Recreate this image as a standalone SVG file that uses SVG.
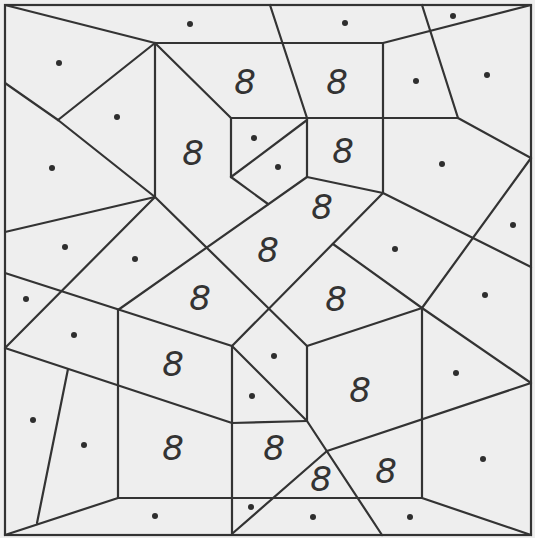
<svg xmlns="http://www.w3.org/2000/svg" width="535" height="538" viewBox="0 0 535 538">
<style>
.e{stroke:#333;stroke-width:2.2;stroke-linecap:round;fill:none}
.d{fill:#2e2e2e}
.n{font-family:"DejaVu Sans",sans-serif;font-weight:200;font-style:italic;font-size:34px;fill:#333;text-anchor:middle}
</style>
<rect width="535" height="538" fill="#eeeeee"/>
<rect x="5" y="5" width="526" height="530" fill="#e8e8e9" class="e"/>
<g id="connectors">
<line class="e" x1="5" y1="5" x2="155" y2="43"/>
<line class="e" x1="155" y1="43" x2="383" y2="43"/>
<line class="e" x1="383" y1="43" x2="531" y2="5"/>
<line class="e" x1="270" y1="5" x2="307" y2="118"/>
<line class="e" x1="422" y1="5" x2="458" y2="118"/>
<line class="e" x1="155" y1="43" x2="58" y2="120"/>
<line class="e" x1="155" y1="43" x2="155" y2="197"/>
<line class="e" x1="155" y1="43" x2="231" y2="118"/>
<line class="e" x1="5" y1="83" x2="58" y2="120"/>
<line class="e" x1="58" y1="120" x2="155" y2="197"/>
<line class="e" x1="155" y1="197" x2="5" y2="232"/>
<line class="e" x1="155" y1="197" x2="5" y2="348"/>
<line class="e" x1="155" y1="197" x2="307" y2="346"/>
<line class="e" x1="231" y1="118" x2="458" y2="118"/>
<line class="e" x1="231" y1="118" x2="231" y2="177"/>
<line class="e" x1="231" y1="177" x2="307" y2="120"/>
<line class="e" x1="231" y1="177" x2="268" y2="204"/>
<line class="e" x1="307" y1="118" x2="307" y2="177"/>
<line class="e" x1="383" y1="43" x2="383" y2="193"/>
<line class="e" x1="307" y1="177" x2="383" y2="193"/>
<line class="e" x1="307" y1="177" x2="118" y2="310"/>
<line class="e" x1="458" y1="118" x2="531" y2="158"/>
<line class="e" x1="531" y1="158" x2="422" y2="308"/>
<line class="e" x1="383" y1="193" x2="531" y2="267"/>
<line class="e" x1="383" y1="193" x2="232" y2="346"/>
<line class="e" x1="333" y1="244" x2="422" y2="308"/>
<line class="e" x1="422" y1="308" x2="307" y2="346"/>
<line class="e" x1="422" y1="308" x2="531" y2="383"/>
<line class="e" x1="422" y1="308" x2="422" y2="498"/>
<line class="e" x1="531" y1="383" x2="327" y2="451"/>
<line class="e" x1="327" y1="451" x2="233" y2="533"/>
<line class="e" x1="232" y1="346" x2="307" y2="421"/>
<line class="e" x1="307" y1="421" x2="382" y2="535"/>
<line class="e" x1="307" y1="346" x2="307" y2="421"/>
<line class="e" x1="232" y1="423" x2="307" y2="421"/>
<line class="e" x1="5" y1="273" x2="232" y2="346"/>
<line class="e" x1="5" y1="348" x2="232" y2="423"/>
<line class="e" x1="118" y1="310" x2="118" y2="498"/>
<line class="e" x1="232" y1="346" x2="232" y2="535"/>
<line class="e" x1="118" y1="498" x2="422" y2="498"/>
<line class="e" x1="422" y1="498" x2="531" y2="535"/>
<line class="e" x1="5" y1="535" x2="118" y2="498"/>
<line class="e" x1="68" y1="369" x2="37" y2="523"/>
</g>
<g id="dots">
<circle class="d" cx="190" cy="24" r="3"/>
<circle class="d" cx="345" cy="23" r="3"/>
<circle class="d" cx="453" cy="16" r="3"/>
<circle class="d" cx="59" cy="63" r="3"/>
<circle class="d" cx="117" cy="117" r="3"/>
<circle class="d" cx="416" cy="81" r="3"/>
<circle class="d" cx="487" cy="75" r="3"/>
<circle class="d" cx="52" cy="168" r="3"/>
<circle class="d" cx="254" cy="138" r="3"/>
<circle class="d" cx="278" cy="167" r="3"/>
<circle class="d" cx="442" cy="164" r="3"/>
<circle class="d" cx="513" cy="225" r="3"/>
<circle class="d" cx="65" cy="247" r="3"/>
<circle class="d" cx="135" cy="259" r="3"/>
<circle class="d" cx="395" cy="249" r="3"/>
<circle class="d" cx="26" cy="299" r="3"/>
<circle class="d" cx="485" cy="295" r="3"/>
<circle class="d" cx="74" cy="335" r="3"/>
<circle class="d" cx="274" cy="356" r="3"/>
<circle class="d" cx="456" cy="373" r="3"/>
<circle class="d" cx="252" cy="396" r="3"/>
<circle class="d" cx="33" cy="420" r="3"/>
<circle class="d" cx="84" cy="445" r="3"/>
<circle class="d" cx="483" cy="459" r="3"/>
<circle class="d" cx="155" cy="516" r="3"/>
<circle class="d" cx="251" cy="507" r="3"/>
<circle class="d" cx="313" cy="517" r="3"/>
<circle class="d" cx="410" cy="517" r="3"/>
</g>
<g id="labels">
<text class="n" x="245" y="94">8</text>
<text class="n" x="337" y="94">8</text>
<text class="n" x="193" y="165">8</text>
<text class="n" x="343" y="163">8</text>
<text class="n" x="322" y="219">8</text>
<text class="n" x="268" y="262">8</text>
<text class="n" x="200" y="310">8</text>
<text class="n" x="336" y="311">8</text>
<text class="n" x="173" y="376">8</text>
<text class="n" x="360" y="402">8</text>
<text class="n" x="173" y="460">8</text>
<text class="n" x="274" y="460">8</text>
<text class="n" x="321" y="491">8</text>
<text class="n" x="386" y="483">8</text>
</g>
</svg>
